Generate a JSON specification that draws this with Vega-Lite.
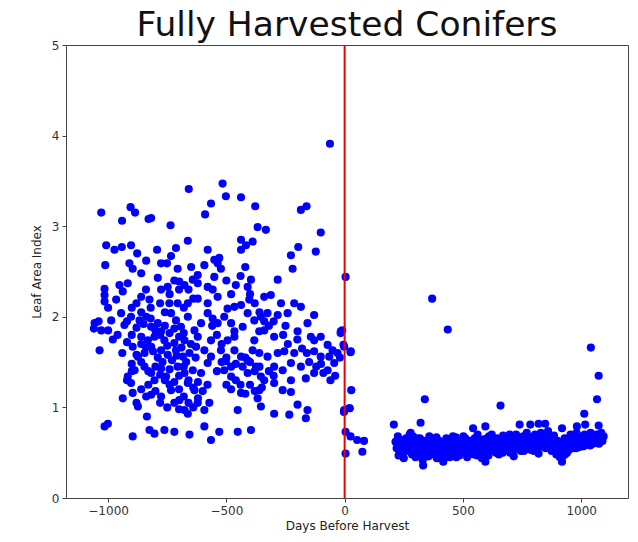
{
"$schema":"https://vega.github.io/schema/vega-lite/v6.json",
"autosize":"none",
"width":562,"height":453,
"padding":{"left":66,"top":45,"right":10,"bottom":44},
"background":"white",
"config":{"font":"DejaVu Sans","view":{"stroke":"#444","strokeWidth":1},
"axis":{"grid":false,"domain":false,"tickColor":"#444","tickSize":4,"labelFontSize":12,"labelColor":"#333","titleFontSize":12,"titleFontWeight":"normal","titleColor":"#222","labelPadding":3}},
"title":{"text":"Fully Harvested Conifers","fontSize":34.5,"fontWeight":"normal","color":"#111","frame":"group","offset":-4},
"layer":[
{"data":{"values":[
{"d":-516,"l":3.47},{"d":-659,"l":3.41},{"d":-502,"l":3.33},{"d":-438,"l":3.32},{"d":-565,"l":3.25},{"d":-590,"l":3.13},{"d":-378,"l":3.22},{"d":-185,"l":3.18},{"d":-161,"l":3.22},{"d":-1029,"l":3.15},{"d":-905,"l":3.21},{"d":-886,"l":3.15},{"d":-941,"l":3.06},{"d":-829,"l":3.08},{"d":-818,"l":3.09},{"d":-736,"l":3.01},{"d":-368,"l":2.99},{"d":-333,"l":2.96},{"d":-101,"l":2.93},{"d":-1008,"l":2.79},{"d":-973,"l":2.74},{"d":-942,"l":2.77},{"d":-903,"l":2.79},{"d":-877,"l":2.70},{"d":-839,"l":2.62},{"d":-793,"l":2.74},{"d":-776,"l":2.59},{"d":-751,"l":2.59},{"d":-713,"l":2.76},{"d":-734,"l":2.67},{"d":-663,"l":2.84},{"d":-579,"l":2.74},{"d":-438,"l":2.85},{"d":-417,"l":2.79},{"d":-389,"l":2.83},{"d":-438,"l":2.74},{"d":-227,"l":2.68},{"d":-196,"l":2.77},{"d":-122,"l":2.72},{"d":-1012,"l":2.57},{"d":-910,"l":2.59},{"d":-896,"l":2.53},{"d":-860,"l":2.48},{"d":-790,"l":2.43},{"d":-706,"l":2.53},{"d":-649,"l":2.55},{"d":-621,"l":2.46},{"d":-593,"l":2.57},{"d":-551,"l":2.63},{"d":-530,"l":2.65},{"d":-537,"l":2.59},{"d":-523,"l":2.53},{"d":-551,"l":2.44},{"d":-220,"l":2.53},
{"d":-1015,"l":2.31},{"d":-1015,"l":2.24},{"d":-952,"l":2.35},{"d":-917,"l":2.37},{"d":-938,"l":2.28},{"d":-860,"l":2.22},{"d":-825,"l":2.19},{"d":-776,"l":2.30},{"d":-748,"l":2.33},{"d":-699,"l":2.39},{"d":-677,"l":2.35},{"d":-642,"l":2.41},{"d":-621,"l":2.37},{"d":-579,"l":2.33},{"d":-558,"l":2.30},{"d":-537,"l":2.22},{"d":-621,"l":2.20},{"d":-579,"l":2.15},{"d":-663,"l":2.15},{"d":-706,"l":2.15},{"d":-741,"l":2.15},{"d":-396,"l":2.41},{"d":-410,"l":2.33},{"d":-340,"l":2.22},{"d":-312,"l":2.24},{"d":-283,"l":2.41},{"d":-269,"l":2.15},{"d":-213,"l":2.15},{"d":-185,"l":2.11},{"d":-403,"l":2.19},{"d":-495,"l":2.09},{"d":-466,"l":2.11},{"d":-438,"l":2.13},{"d":-1015,"l":2.17},{"d":-966,"l":2.19},
{"d":-1057,"l":1.93},{"d":-1029,"l":1.85},{"d":-987,"l":1.96},{"d":-945,"l":2.04},{"d":-931,"l":1.91},{"d":-903,"l":2.00},{"d":-867,"l":1.96},{"d":-839,"l":2.00},{"d":-818,"l":1.89},{"d":-790,"l":1.93},{"d":-776,"l":1.84},{"d":-734,"l":2.04},{"d":-713,"l":1.96},{"d":-692,"l":1.89},{"d":-663,"l":2.00},{"d":-635,"l":1.85},{"d":-607,"l":1.93},{"d":-579,"l":2.04},{"d":-558,"l":1.98},{"d":-537,"l":1.93},{"d":-509,"l":2.00},{"d":-480,"l":1.93},{"d":-466,"l":1.84},{"d":-431,"l":1.89},{"d":-410,"l":2.04},{"d":-382,"l":1.96},{"d":-361,"l":1.84},{"d":-354,"l":2.00},{"d":-326,"l":2.04},{"d":-283,"l":2.02},{"d":-241,"l":2.04},{"d":-199,"l":1.84},{"d":-157,"l":1.93},{"d":-129,"l":2.02},{"d":-101,"l":1.78},{"d":-72,"l":1.69},{"d":-51,"l":1.63},{"d":-16,"l":1.84},{"d":-2,"l":1.67},{"d":26,"l":1.62},{"d":-860,"l":1.78},{"d":-832,"l":1.74},{"d":-804,"l":1.78},{"d":-762,"l":1.74},{"d":-720,"l":1.71},{"d":-677,"l":1.74},{"d":-621,"l":1.78},{"d":-565,"l":1.74},{"d":-495,"l":1.74},{"d":-466,"l":1.78},{"d":-382,"l":1.74},{"d":-340,"l":1.85},{"d":-298,"l":1.78},{"d":-143,"l":1.78},{"d":-129,"l":1.74},
{"d":-1036,"l":1.63},{"d":-896,"l":1.67},{"d":-874,"l":1.56},{"d":-846,"l":1.60},{"d":-818,"l":1.67},{"d":-776,"l":1.63},{"d":-748,"l":1.58},{"d":-713,"l":1.63},{"d":-684,"l":1.56},{"d":-656,"l":1.60},{"d":-628,"l":1.67},{"d":-593,"l":1.63},{"d":-565,"l":1.56},{"d":-523,"l":1.63},{"d":-502,"l":1.51},{"d":-466,"l":1.63},{"d":-438,"l":1.56},{"d":-410,"l":1.52},{"d":-389,"l":1.63},{"d":-361,"l":1.60},{"d":-326,"l":1.56},{"d":-283,"l":1.60},{"d":-255,"l":1.62},{"d":-227,"l":1.49},{"d":-213,"l":1.60},{"d":-185,"l":1.45},{"d":-129,"l":1.62},{"d":-101,"l":1.56},{"d":-65,"l":1.56},{"d":-44,"l":1.49},{"d":-72,"l":1.41},{"d":-917,"l":1.34},{"d":-888,"l":1.41},{"d":-846,"l":1.45},{"d":-818,"l":1.38},{"d":-776,"l":1.43},{"d":-755,"l":1.34},{"d":-706,"l":1.45},{"d":-677,"l":1.38},{"d":-642,"l":1.41},{"d":-607,"l":1.38},{"d":-579,"l":1.49},{"d":-509,"l":1.41},{"d":-480,"l":1.34},{"d":-431,"l":1.45},{"d":-410,"l":1.38},{"d":-375,"l":1.45},{"d":-354,"l":1.34},{"d":-298,"l":1.45},{"d":-262,"l":1.41},{"d":-227,"l":1.30},{"d":-164,"l":1.32},{"d":-129,"l":1.38},{"d":-903,"l":1.27},{"d":-804,"l":1.30},
{"d":-938,"l":1.10},{"d":-896,"l":1.16},{"d":-874,"l":1.01},{"d":-839,"l":1.12},{"d":-818,"l":1.14},{"d":-776,"l":1.12},{"d":-734,"l":1.19},{"d":-699,"l":1.08},{"d":-663,"l":1.27},{"d":-635,"l":1.19},{"d":-621,"l":1.05},{"d":-593,"l":0.97},{"d":-572,"l":1.05},{"d":-663,"l":0.93},{"d":-677,"l":0.97},{"d":-438,"l":1.16},{"d":-361,"l":1.19},{"d":-368,"l":1.10},{"d":-298,"l":1.27},{"d":-262,"l":1.19},{"d":-227,"l":1.17},{"d":-199,"l":1.03},{"d":-157,"l":0.97},{"d":-298,"l":0.93},{"d":-234,"l":0.92},{"d":-164,"l":0.88},{"d":-452,"l":0.97},{"d":-836,"l":0.90},{"d":-1015,"l":0.79},{"d":-1001,"l":0.82},{"d":-896,"l":0.68},{"d":-825,"l":0.75},{"d":-804,"l":0.71},{"d":-762,"l":0.75},{"d":-720,"l":0.73},{"d":-656,"l":0.70},{"d":-593,"l":0.79},{"d":-565,"l":0.64},{"d":-530,"l":0.73},{"d":-452,"l":0.73},{"d":-396,"l":0.75},{"d":-354,"l":1.01},
{"d":-880,"l":1.88},{"d":-850,"l":1.92},{"d":-820,"l":1.98},{"d":-800,"l":1.85},{"d":-780,"l":1.80},{"d":-760,"l":1.90},{"d":-740,"l":1.82},{"d":-720,"l":1.87},{"d":-700,"l":1.78},{"d":-680,"l":1.82},{"d":-860,"l":1.70},{"d":-840,"l":1.66},{"d":-810,"l":1.62},{"d":-790,"l":1.55},{"d":-770,"l":1.50},{"d":-750,"l":1.68},{"d":-730,"l":1.52},{"d":-710,"l":1.57},{"d":-690,"l":1.66},{"d":-670,"l":1.50},{"d":-650,"l":1.70},{"d":-630,"l":1.55},{"d":-860,"l":1.50},{"d":-830,"l":1.40},{"d":-800,"l":1.45},{"d":-780,"l":1.36},{"d":-760,"l":1.30},{"d":-740,"l":1.42},{"d":-720,"l":1.28},{"d":-700,"l":1.35},{"d":-680,"l":1.45},{"d":-660,"l":1.30},{"d":-640,"l":1.22},{"d":-620,"l":1.28},{"d":-600,"l":1.18},{"d":-580,"l":1.25},{"d":-900,"l":1.80},{"d":-920,"l":1.72},{"d":-880,"l":1.58},{"d":-900,"l":1.48},{"d":-940,"l":1.60},{"d":-860,"l":1.20},{"d":-830,"l":1.25},{"d":-800,"l":1.18},{"d":-780,"l":1.05},{"d":-750,"l":1.00},{"d":-720,"l":1.05},{"d":-700,"l":1.20},{"d":-680,"l":1.12},{"d":-660,"l":1.05},{"d":-640,"l":1.00},{"d":-620,"l":1.10},{"d":-900,"l":1.40},{"d":-920,"l":1.30},{"d":-880,"l":1.05},{"d":-700,"l":0.98},{"d":-740,"l":1.25},{"d":-560,"l":1.90},{"d":-540,"l":1.80},{"d":-520,"l":1.70},{"d":-500,"l":1.55},{"d":-480,"l":1.45},{"d":-460,"l":1.48},{"d":-520,"l":1.50},{"d":-540,"l":1.40},{"d":-500,"l":1.25},{"d":-480,"l":1.20},{"d":-460,"l":1.30},{"d":-440,"l":1.25},{"d":-420,"l":1.55},{"d":-400,"l":1.50},{"d":-380,"l":1.40},{"d":-360,"l":1.45},{"d":-340,"l":1.30},{"d":-320,"l":1.40},{"d":-300,"l":1.35},{"d":-400,"l":1.25},{"d":-420,"l":1.15},{"d":-380,"l":1.18},{"d":-350,"l":1.22},{"d":-480,"l":2.25},{"d":-460,"l":2.35},{"d":-500,"l":2.40},{"d":-440,"l":2.45},{"d":-420,"l":2.55},{"d":-400,"l":2.25},{"d":-380,"l":2.15},{"d":-360,"l":2.05},{"d":-340,"l":1.95},{"d":-320,"l":1.90},{"d":-300,"l":1.95},{"d":-260,"l":1.80},{"d":-250,"l":1.90},{"d":-240,"l":1.70},{"d":-200,"l":1.75},{"d":-180,"l":1.65},{"d":-160,"l":1.60},{"d":-150,"l":1.50},{"d":-120,"l":1.45},{"d":-100,"l":1.48},{"d":-90,"l":1.38},{"d":-60,"l":1.30},{"d":-40,"l":1.35},{"d":-30,"l":1.60},{"d":-20,"l":1.55},{"d":-640,"l":2.20},{"d":-660,"l":2.30},{"d":-680,"l":2.10},{"d":-700,"l":2.30},{"d":-720,"l":2.40},{"d":-740,"l":2.25},{"d":-760,"l":2.05},{"d":-780,"l":2.15},{"d":-820,"l":2.10},{"d":-840,"l":2.30},{"d":-860,"l":2.05},{"d":-880,"l":2.15},{"d":-900,"l":2.10},{"d":-920,"l":1.95},{"d":-960,"l":1.80},{"d":-980,"l":1.75},{"d":-1000,"l":1.85},{"d":-1040,"l":1.95},{"d":-1060,"l":1.87},{"d":-1000,"l":2.10},
{"d":-10,"l":1.85},{"d":-17,"l":1.82},{"d":-5,"l":1.69},{"d":25,"l":1.61},{"d":28,"l":1.19},{"d":22,"l":0.99},{"d":-3,"l":0.95},{"d":4,"l":0.73},{"d":25,"l":0.68},{"d":53,"l":0.64},{"d":82,"l":0.63},{"d":75,"l":0.51},{"d":4,"l":0.49},{"d":4,"l":2.44},{"d":-62,"l":3.91},{"d":-2,"l":0.97},{"d":19,"l":0.99},
{"d":370,"l":2.20},{"d":436,"l":1.86},{"d":339,"l":1.09},{"d":659,"l":1.02},{"d":1041,"l":1.66},{"d":1074,"l":1.35},{"d":1067,"l":1.09},{"d":1013,"l":0.93},{"d":1074,"l":0.80},{"d":321,"l":0.83},{"d":208,"l":0.81},{"d":740,"l":0.81},{"d":279,"l":0.72},{"d":543,"l":0.77},{"d":595,"l":0.79},{"d":785,"l":0.81},{"d":820,"l":0.82},{"d":848,"l":0.82},{"d":919,"l":0.77},{"d":982,"l":0.79},{"d":1017,"l":0.81},
{"d":215,"l":0.62},{"d":220,"l":0.55},{"d":225,"l":0.68},{"d":235,"l":0.58},{"d":240,"l":0.50},{"d":245,"l":0.64},{"d":255,"l":0.57},{"d":260,"l":0.66},{"d":265,"l":0.52},{"d":270,"l":0.60},{"d":275,"l":0.70},{"d":280,"l":0.55},{"d":285,"l":0.48},{"d":290,"l":0.62},{"d":295,"l":0.58},{"d":300,"l":0.45},{"d":305,"l":0.66},{"d":310,"l":0.53},{"d":315,"l":0.60},{"d":320,"l":0.49},{"d":325,"l":0.57},{"d":330,"l":0.42},{"d":332,"l":0.36},{"d":335,"l":0.63},{"d":340,"l":0.55},{"d":345,"l":0.50},{"d":350,"l":0.60},{"d":355,"l":0.46},{"d":360,"l":0.58},{"d":365,"l":0.65},{"d":370,"l":0.52},{"d":375,"l":0.48},{"d":380,"l":0.61},{"d":385,"l":0.55},{"d":390,"l":0.44},{"d":395,"l":0.58},{"d":400,"l":0.63},{"d":405,"l":0.51},{"d":410,"l":0.56},{"d":415,"l":0.47},{"d":417,"l":0.40},{"d":420,"l":0.60},{"d":425,"l":0.54},{"d":430,"l":0.66},{"d":435,"l":0.50},{"d":440,"l":0.58},{"d":445,"l":0.45},{"d":450,"l":0.62},{"d":455,"l":0.55},{"d":460,"l":0.49},{"d":465,"l":0.60},{"d":470,"l":0.67},{"d":475,"l":0.53},{"d":480,"l":0.58},{"d":485,"l":0.47},{"d":490,"l":0.63},{"d":495,"l":0.56},{"d":500,"l":0.51},{"d":505,"l":0.60},{"d":510,"l":0.66},{"d":515,"l":0.54},{"d":520,"l":0.58},{"d":525,"l":0.48},{"d":530,"l":0.63},{"d":535,"l":0.57},{"d":540,"l":0.52},{"d":545,"l":0.61},{"d":550,"l":0.66},{"d":555,"l":0.55},{"d":560,"l":0.47},{"d":565,"l":0.60},{"d":570,"l":0.53},{"d":575,"l":0.64},{"d":580,"l":0.44},{"d":585,"l":0.58},{"d":590,"l":0.50},{"d":595,"l":0.40},{"d":600,"l":0.62},{"d":605,"l":0.56},{"d":610,"l":0.68},{"d":615,"l":0.52},{"d":620,"l":0.59},{"d":625,"l":0.64},{"d":630,"l":0.55},{"d":635,"l":0.61},{"d":640,"l":0.50},{"d":645,"l":0.66},{"d":650,"l":0.58},{"d":655,"l":0.53},{"d":660,"l":0.62},{"d":665,"l":0.57},{"d":670,"l":0.69},{"d":675,"l":0.52},{"d":680,"l":0.60},{"d":685,"l":0.65},{"d":690,"l":0.56},{"d":695,"l":0.62},{"d":700,"l":0.50},{"d":705,"l":0.67},{"d":710,"l":0.58},{"d":715,"l":0.46},{"d":720,"l":0.63},{"d":725,"l":0.70},{"d":730,"l":0.55},{"d":735,"l":0.61},{"d":740,"l":0.66},{"d":745,"l":0.52},{"d":750,"l":0.60},{"d":755,"l":0.68},{"d":760,"l":0.57},{"d":765,"l":0.63},{"d":770,"l":0.72},{"d":775,"l":0.55},{"d":780,"l":0.61},{"d":785,"l":0.67},{"d":790,"l":0.58},{"d":795,"l":0.64},{"d":800,"l":0.52},{"d":805,"l":0.70},{"d":810,"l":0.60},{"d":815,"l":0.66},{"d":820,"l":0.49},{"d":825,"l":0.62},{"d":830,"l":0.72},{"d":835,"l":0.57},{"d":840,"l":0.64},{"d":845,"l":0.68},{"d":850,"l":0.55},{"d":855,"l":0.61},{"d":860,"l":0.74},{"d":865,"l":0.58},{"d":870,"l":0.65},{"d":875,"l":0.52},{"d":880,"l":0.62},{"d":885,"l":0.69},{"d":890,"l":0.56},{"d":895,"l":0.48},{"d":900,"l":0.63},{"d":905,"l":0.54},{"d":910,"l":0.45},{"d":915,"l":0.60},{"d":919,"l":0.40},{"d":925,"l":0.52},{"d":930,"l":0.66},{"d":935,"l":0.58},{"d":940,"l":0.50},{"d":945,"l":0.64},{"d":950,"l":0.56},{"d":955,"l":0.70},{"d":960,"l":0.61},{"d":965,"l":0.55},{"d":970,"l":0.66},{"d":975,"l":0.59},{"d":980,"l":0.72},{"d":985,"l":0.62},{"d":990,"l":0.56},{"d":995,"l":0.68},{"d":1000,"l":0.60},{"d":1005,"l":0.65},{"d":1010,"l":0.57},{"d":1015,"l":0.70},{"d":1020,"l":0.63},{"d":1025,"l":0.59},{"d":1030,"l":0.67},{"d":1035,"l":0.61},{"d":1040,"l":0.72},{"d":1045,"l":0.64},{"d":1050,"l":0.60},{"d":1055,"l":0.68},{"d":1060,"l":0.62},{"d":1065,"l":0.70},{"d":1070,"l":0.65},{"d":1075,"l":0.60},{"d":1080,"l":0.66},{"d":1085,"l":0.72},{"d":1090,"l":0.63},{"d":1095,"l":0.68},
{"d":228,"l":0.47},{"d":250,"l":0.44},{"d":262,"l":0.62},{"d":288,"l":0.68},{"d":302,"l":0.56},{"d":318,"l":0.66},{"d":342,"l":0.46},{"d":358,"l":0.68},{"d":372,"l":0.58},{"d":388,"l":0.67},{"d":402,"l":0.44},{"d":428,"l":0.45},{"d":442,"l":0.52},{"d":458,"l":0.68},{"d":472,"l":0.45},{"d":488,"l":0.52},{"d":502,"l":0.68},{"d":518,"l":0.45},{"d":532,"l":0.55},{"d":548,"l":0.48},{"d":562,"l":0.70},{"d":578,"l":0.52},{"d":592,"l":0.65},{"d":608,"l":0.47},{"d":622,"l":0.70},{"d":638,"l":0.58},{"d":652,"l":0.48},{"d":668,"l":0.50},{"d":682,"l":0.55},{"d":698,"l":0.70},{"d":712,"l":0.52},{"d":728,"l":0.62},{"d":742,"l":0.58},{"d":758,"l":0.52},{"d":772,"l":0.62},{"d":788,"l":0.53},{"d":802,"l":0.62},{"d":818,"l":0.57},{"d":832,"l":0.62},{"d":848,"l":0.60},{"d":862,"l":0.66},{"d":878,"l":0.57},{"d":892,"l":0.63},{"d":902,"l":0.50},{"d":912,"l":0.55},{"d":922,"l":0.46},{"d":932,"l":0.48},{"d":948,"l":0.53},{"d":962,"l":0.68},{"d":978,"l":0.55},{"d":992,"l":0.62},{"d":1008,"l":0.67},{"d":1022,"l":0.66},{"d":1038,"l":0.58},{"d":1052,"l":0.64},{"d":1068,"l":0.61},{"d":1082,"l":0.62}
]},
"mark":{"type":"circle","color":"#0000ff","opacity":1,"size":66},
"encoding":{
"x":{"field":"d","type":"quantitative","scale":{"domain":[-1178,1198],"nice":false,"zero":false},"axis":{"values":[-1000,-500,0,500,1000],"format":"d","title":"Days Before Harvest","titlePadding":4}},
"y":{"field":"l","type":"quantitative","scale":{"domain":[0,5],"nice":false},"axis":{"values":[0,1,2,3,4,5],"title":"Leaf Area Index","titlePadding":8}}
}},
{"data":{"values":[{"d":0}]},
"mark":{"type":"rule","color":"#ee0000","strokeWidth":2},
"encoding":{"x":{"field":"d","type":"quantitative"}}}
]
}
